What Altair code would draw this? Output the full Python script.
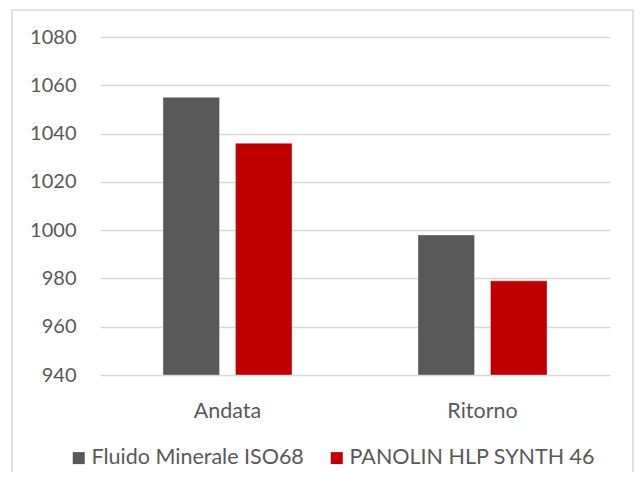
import altair as alt
import pandas as pd

categories = ["Andata", "Ritorno"]
series = ["Fluido Minerale ISO68", "PANOLIN HLP SYNTH 46"]
mineral = [1055, 998]
panolin = [1036, 979]
y_ticks = [940, 960, 980, 1000, 1020, 1040, 1060, 1080]
colors = ["#595959", "#C00000"]

rows = []
for i, c in enumerate(categories):
    rows.append({"cat": c, "serie": series[0], "val": mineral[i]})
    rows.append({"cat": c, "serie": series[1], "val": panolin[i]})
df = pd.DataFrame(rows)

FONT = "Lato"
TXT = "#595959"

bars = alt.Chart(df).mark_bar(stroke="white", strokeWidth=0.6, strokeOpacity=0.6, clip=True).encode(
    x=alt.X("cat:N", sort=categories, title=None,
            scale=alt.Scale(paddingInner=0.494, paddingOuter=0.247),
            axis=alt.Axis(labelAngle=0, ticks=False, domain=False, labelPadding=25,
                          labelFont=FONT, labelFontSize=21.5, labelColor=TXT)),
    xOffset=alt.XOffset("serie:N", sort=series,
                        scale=alt.Scale(paddingInner=0.22, paddingOuter=0)),
    y=alt.Y("val:Q", title=None, stack=None,
            scale=alt.Scale(domain=[940, 1080], nice=False, zero=False),
            axis=alt.Axis(values=y_ticks, format="d", ticks=False, domain=False, labelPadding=24,
                          labelFont=FONT, labelFontSize=20, labelColor=TXT,
                          gridColor="#D9D9D9", gridWidth=1.5)),
    color=alt.Color("serie:N", sort=series, title=None,
                    scale=alt.Scale(domain=series, range=colors),
                    legend=alt.Legend(orient="none", legendX=-32, legendY=410,
                                      direction="horizontal", symbolType="square",
                                      symbolSize=144, symbolStrokeWidth=0,
                                      labelFont=FONT, labelFontSize=21.5, labelColor=TXT,
                                      labelLimit=0, labelOffset=2, columnPadding=22)),
)

border = alt.Chart(pd.DataFrame({"a": [0]})).mark_rect(
    fill=None, stroke="#D9D9D9", strokeWidth=1.5, clip=False
).encode(
    x=alt.value(-88), x2=alt.value(533), y=alt.value(-27), y2=alt.value(520)
)

chart = alt.layer(border, bars).properties(
    width=510, height=338,
    autosize=alt.AutoSizeParams(type="none"),
    padding={"left": 92, "top": 29, "right": 24, "bottom": 97},
    background="white",
).configure_view(stroke=None)

chart.save("out.html", embed_options={"renderer": "svg", "actions": False})
